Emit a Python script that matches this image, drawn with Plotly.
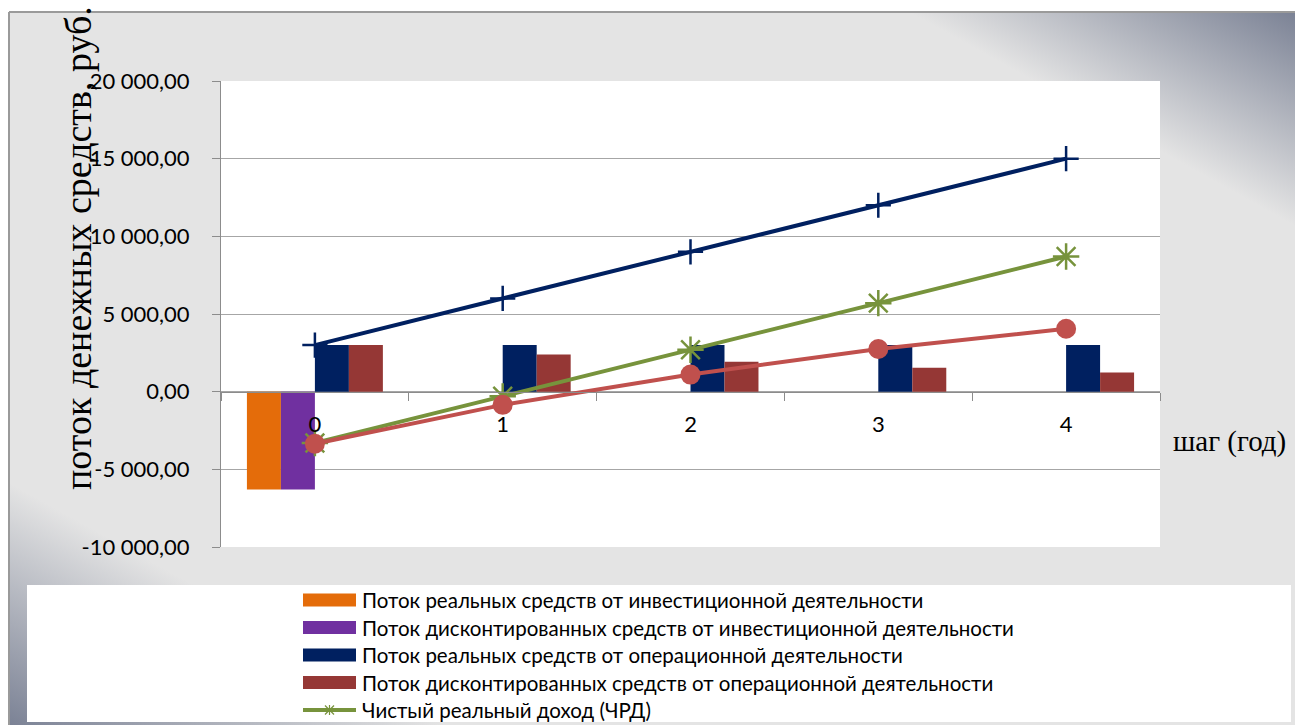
import base64
import plotly.graph_objects as go

# ---------------- data ----------------
steps = ["0", "1", "2", "3", "4"]
inv_real = [-6300, None, None, None, None]
inv_disc = [-6300, None, None, None, None]
op_real = [3000, 3000, 3000, 3000, 3000]
op_disc = [3000, 2400, 1920, 1536, 1229]
cum_op_real = [3000, 6000, 9000, 12000, 15000]
chrd = [-3300, -300, 2700, 5700, 8700]
chdd = [-3350, -850, 1100, 2750, 4050]

y_tickvals = [-10000, -5000, 0, 5000, 10000, 15000, 20000]
y_ticktext = ["-10 000,00", "-5 000,00", "0,00", "5 000,00", "10 000,00", "15 000,00", "20 000,00"]

legend_labels = [
    "Поток реальных средств от инвестиционной деятельности",
    "Поток дисконтированных средств от инвестиционной деятельности",
    "Поток реальных средств от операционной деятельности",
    "Поток дисконтированных средств от операционной деятельности",
    "Чистый реальный доход (ЧРД)",
]
y_title = "поток денежных средств, руб."
x_title = "шаг (год)"

C_ORANGE = "#e46c0a"
C_PURPLE = "#7030a0"
C_NAVY = "#002060"
C_MAROON = "#953735"
C_GREEN = "#77933c"
C_RED = "#c0504d"

W, H = 1295, 725
L, R, T, B = 221, 1160, 81, 547


def fx(px):
    return (px - L) / (R - L)


def fy(py):
    return (B - py) / (B - T)


fig = go.Figure()
bar_kw = dict(marker_line_width=0, showlegend=False)
fig.add_trace(go.Bar(x=steps, y=inv_real, marker_color=C_ORANGE, name=legend_labels[0], **bar_kw))
fig.add_trace(go.Bar(x=steps, y=inv_disc, marker_color=C_PURPLE, name=legend_labels[1], **bar_kw))
fig.add_trace(go.Bar(x=steps, y=op_real, marker_color=C_NAVY, name=legend_labels[2], **bar_kw))
fig.add_trace(go.Bar(x=steps, y=op_disc, marker_color=C_MAROON, name=legend_labels[3], **bar_kw))

fig.add_trace(go.Scatter(x=steps, y=cum_op_real, mode="lines+markers", showlegend=False,
                         line=dict(color=C_NAVY, width=4),
                         marker=dict(symbol="cross-thin-open", size=18, line=dict(color=C_NAVY, width=2.5))))
fig.add_trace(go.Scatter(x=steps, y=chrd, mode="lines+markers", showlegend=False, name=legend_labels[4],
                         line=dict(color=C_GREEN, width=4),
                         marker=dict(symbol="asterisk-open", size=22, line=dict(color=C_GREEN, width=2.5))))
fig.add_trace(go.Scatter(x=steps, y=chdd, mode="lines+markers", showlegend=False,
                         line=dict(color=C_RED, width=4),
                         marker=dict(symbol="circle", size=20, color=C_RED)))

# background gradient (decorative)
bw, bh = W - 9, H - 12
svg = (f'<svg xmlns="http://www.w3.org/2000/svg" width="{bw}" height="{bh}">'
       '<defs><linearGradient id="g" x1="0" y1="1" x2="1" y2="0">'
       '<stop offset="0" stop-color="#7b8295"/>'
       '<stop offset="0.17" stop-color="#e4e4e4"/>'
       '<stop offset="0.85" stop-color="#e4e4e4"/>'
       '<stop offset="1" stop-color="#7b8295"/>'
       '</linearGradient></defs>'
       f'<rect width="{bw}" height="{bh}" fill="url(#g)"/></svg>')
src = "data:image/svg+xml;base64," + base64.b64encode(svg.encode()).decode()
fig.add_layout_image(dict(source=src, xref="paper", yref="paper", x=fx(9), y=fy(12),
                          sizex=bw / (R - L), sizey=bh / (B - T), xanchor="left", yanchor="top",
                          sizing="stretch", layer="below"))

shapes = []
# plot area white
shapes.append(dict(type="rect", xref="paper", yref="paper", x0=0, x1=1, y0=0, y1=1,
                   fillcolor="white", line_width=0, layer="below"))
# border lines of panel
shapes.append(dict(type="line", xref="paper", yref="paper", x0=fx(9), x1=fx(W), y0=fy(12), y1=fy(12),
                   line=dict(color="#9a9a9a", width=2), layer="below"))
shapes.append(dict(type="line", xref="paper", yref="paper", x0=fx(9), x1=fx(9), y0=fy(12), y1=fy(H),
                   line=dict(color="#9a9a9a", width=2), layer="below"))
# legend box
shapes.append(dict(type="rect", xref="paper", yref="paper", x0=fx(27), x1=fx(1291), y0=fy(585), y1=fy(722),
                   fillcolor="white", line_width=0, layer="below"))

annotations = []
row_y = [600, 627.5, 655, 682.5, 710]
sw_colors = [C_ORANGE, C_PURPLE, C_NAVY, C_MAROON]
for i, lab in enumerate(legend_labels):
    yc = row_y[i]
    if i < 4:
        shapes.append(dict(type="rect", xref="paper", yref="paper", x0=fx(303), x1=fx(356),
                           y0=fy(yc + 6.5), y1=fy(yc - 6.5), fillcolor=sw_colors[i], line_width=0))
    else:
        shapes.append(dict(type="line", xref="paper", yref="paper", x0=fx(303), x1=fx(356),
                           y0=fy(yc), y1=fy(yc), line=dict(color=C_GREEN, width=4)))
        cx = 329.5
        for dx, dy in [(0, 5), (4.5, 4.5), (-4.5, 4.5)]:
            shapes.append(dict(type="line", xref="paper", yref="paper", x0=fx(cx - dx), x1=fx(cx + dx),
                               y0=fy(yc - dy), y1=fy(yc + dy), line=dict(color=C_GREEN, width=1.2)))
    annotations.append(dict(text=lab, xref="paper", yref="paper", x=fx(360), y=fy(yc),
                            xanchor="left", yanchor="middle", showarrow=False,
                            font=dict(family="Lato", size=20.5, color="#000000")))

annotations.append(dict(text=y_title, xref="paper", yref="paper", x=fx(78), y=fy(492),
                        xanchor="center", yanchor="bottom", textangle=-90, showarrow=False,
                        font=dict(family="Liberation Serif", size=38, color="#000000")))
annotations.append(dict(text=x_title, xref="paper", yref="paper", x=fx(1229), y=fy(441),
                        xanchor="center", yanchor="middle", showarrow=False,
                        font=dict(family="Liberation Serif", size=29, color="#000000")))

fig.update_layout(
    width=W, height=H,
    margin=dict(l=L, r=W - R, t=T, b=H - B, pad=0),
    paper_bgcolor="white",
    plot_bgcolor="white",
    barmode="group",
    bargap=0.276,
    bargroupgap=0,
    showlegend=False,
    shapes=shapes,
    annotations=annotations,
    xaxis=dict(type="category", range=[-0.5, 4.5], anchor="free", position=1 / 3,
               showgrid=False, zeroline=False, showline=True, linecolor="#8c8c8c", linewidth=1,
               ticks="outside", tickson="boundaries", ticklen=8, tickcolor="#8c8c8c",
               ticklabelstandoff=13,
               tickfont=dict(family="Lato", size=22, color="#000000")),
    yaxis=dict(range=[-10000, 20000], tickvals=y_tickvals, ticktext=y_ticktext,
               showgrid=True, gridcolor="#a6a6a6", gridwidth=1, zeroline=False,
               showline=True, linecolor="#8c8c8c", linewidth=1,
               ticks="outside", ticklen=8, tickcolor="#8c8c8c", ticklabelstandoff=18,
               tickfont=dict(family="Lato", size=22, color="#000000")),
)

fig.write_html("out.html")
